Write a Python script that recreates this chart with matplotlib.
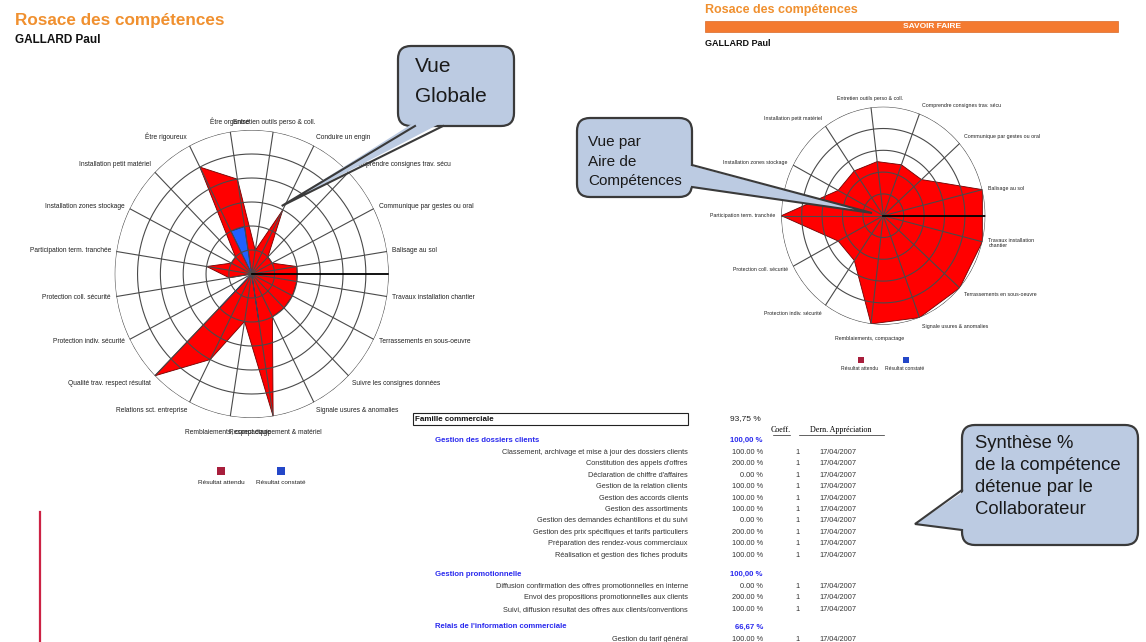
import numpy as np
import matplotlib.pyplot as plt
from matplotlib.patches import FancyBboxPatch, Polygon, Rectangle

plt.rcParams['font.family'] = ['Liberation Sans', 'DejaVu Sans']

W, H = 1146, 642

# Vue globale : toutes les competences (valeurs en %)
global_labels = [
    "Balisage au sol", "Communique par gestes ou oral", "Comprendre consignes trav. sécu",
    "Conduire un engin", "Entretien outils perso & coll.", "Être organisé", "Être rigoureux",
    "Installation petit matériel", "Installation zones stockage", "Participation term. tranchée",
    "Protection coll. sécurité", "Protection indiv. sécurité", "Qualité trav. respect résultat",
    "Relations sct. entreprise", "Remblaiements, compactage", "Respect équipement & matériel",
    "Signale usures & anomalies", "Suivre les consignes données", "Terrassements en sous-oeuvre",
    "Travaux installation chantier",
]
global_expected = [100, 50, 50, 150, 50, 200, 250, 50, 50, 100, 50, 0, 300, 200, 100, 300, 100, 100, 100, 100]
global_observed = [0, 0, 0, 0, 0, 100, 100, 0, 0, 0, 0, 0, 100, 0, 0, 100, 0, 0, 0, 0]
global_max = 300
global_step = 50

# Vue par aire de competences : SAVOIR FAIRE
sf_labels = [
    "Balisage au sol", "Communique par gestes ou oral", "Comprendre consignes trav. sécu",
    "Entretien outils perso & coll.", "Installation petit matériel", "Installation zones stockage",
    "Participation term. tranchée", "Protection coll. sécurité", "Protection indiv. sécurité",
    "Remblaiements, compactage", "Signale usures & anomalies", "Terrassements en sous-oeuvre",
    "Travaux installation\nchantier",
]
sf_expected = [200, 100, 100, 100, 100, 100, 200, 100, 100, 200, 200, 200, 200]
sf_observed = [0, 0, 0, 0, 0, 0, 0, 0, 0, 0, 0, 0, 0]
sf_max = 200
sf_step = 40

# Tableau de synthese
family_name = "Famille commerciale"
family_score = "93,75 %"
group_names = ["Gestion des dossiers clients", "Gestion promotionnelle",
               "Relais de l'information commerciale"]
group_scores = ["100,00 %", "100,00 %", "66,67 %"]
group_items = [
    ["Classement, archivage et mise à jour des dossiers clients",
     "Constitution des appels d'offres",
     "Déclaration de chiffre d'affaires",
     "Gestion de la relation clients",
     "Gestion des accords clients",
     "Gestion des assortiments",
     "Gestion des demandes échantillons et du suivi",
     "Gestion des prix spécifiques et tarifs particuliers",
     "Préparation des rendez-vous commerciaux",
     "Réalisation et gestion des fiches produits"],
    ["Diffusion confirmation des offres promotionnelles en interne",
     "Envoi des propositions promotionnelles aux clients",
     "Suivi, diffusion résultat des offres aux clients/conventions"],
    ["Gestion du tarif général"],
]
group_values = [
    [100, 200, 0, 100, 100, 100, 0, 200, 100, 100],
    [0, 200, 100],
    [100],
]
item_coeff = 1
item_date = "17/04/2007"

RED = '#ff0000'
BLUE = '#2060ff'
ORANGE = '#f0902f'
CALLOUT_FC = '#bccbe2'
CALLOUT_EC = '#3a3a3a'
GROUP_BLUE = '#2a2aee'

fig = plt.figure(figsize=(W / 100, H / 100), dpi=100)
ax_bg = fig.add_axes([0, 0, 1, 1])
ax_bg.set_xlim(0, W)
ax_bg.set_ylim(H, 0)
ax_bg.axis('off')


def draw_radar(cx, cy, rx, ry, labels, expected, observed, vmax, step, fs, gap, offset_deg):
    ax = fig.add_axes([(cx - rx) / W, 1 - (cy + ry) / H, 2 * rx / W, 2 * ry / H],
                      projection='polar', zorder=2)
    ax.set_aspect('auto')
    n = len(labels)
    angles = np.deg2rad(offset_deg) + 2 * np.pi * np.arange(n) / n
    ax.set_ylim(0, vmax)
    ax.set_xticks([])
    ax.set_yticks([])
    ax.grid(False)
    ax.spines['polar'].set_visible(False)
    ax.patch.set_visible(False)

    closed = np.append(angles, angles[0])
    ax.fill(closed, np.append(expected, expected[0]), fc=RED, ec='#700000', lw=0.6, zorder=1)
    if max(observed) > 0:
        ax.fill(closed, np.append(observed, observed[0]), fc=BLUE, ec='#0a2a8a', lw=0.5, zorder=2)

    th = np.linspace(0, 2 * np.pi, 361)
    for r in np.arange(step, vmax + step / 2, step):
        ax.plot(th, np.full_like(th, r), color='#4a4a4a', lw=0.8, zorder=3)
    for a in angles:
        ax.plot([a, a], [0, vmax], color='#4a4a4a', lw=0.8, zorder=3)
    ax.plot([0, 0], [0, vmax], color='black', lw=1.3, zorder=4)

    for a, lab in zip(angles, labels):
        c, s = np.cos(a), np.sin(a)
        ha = 'center' if abs(c) < 0.2 else ('left' if c > 0 else 'right')
        va = 'bottom' if s > 0.5 else ('top' if s < -0.5 else 'center')
        r_lab = vmax * gap
        if abs(c) < 0.2 and s < 0:
            r_lab = vmax * (gap + 0.05)
        ax.text(a, r_lab, lab, ha=ha, va=va, fontsize=fs, color='#222222',
                clip_on=False, zorder=5, linespacing=1.0)
    return ax


draw_radar(251.7, 274, 137, 144, global_labels, global_expected, global_observed,
           global_max, global_step, 4.8, 1.04, 9)
draw_radar(883.3, 215.7, 102, 109, sf_labels, sf_expected, sf_observed,
           sf_max, sf_step, 3.8, 1.06, 180 - 6 * 360 / 13)

# Titres
ax_bg.text(15, 20, "Rosace des compétences", fontsize=12.3, fontweight='bold', color=ORANGE, va='center')
ax_bg.text(15, 40, "GALLARD Paul", fontsize=8.5, fontweight='bold', color='#111111', va='center')
ax_bg.text(705, 10, "Rosace des compétences", fontsize=9, fontweight='bold', color=ORANGE, va='center')
ax_bg.add_patch(Rectangle((705, 20.5), 413, 11, fc='#f47a30', ec='#d86a28', lw=0.5))
ax_bg.text(932, 26, "SAVOIR FAIRE", fontsize=6, fontweight='bold', color='white', ha='center', va='center')
ax_bg.text(705, 43, "GALLARD Paul", fontsize=6.5, fontweight='bold', color='#111111', va='center')

# Legendes
ax_bg.add_patch(Rectangle((217, 467), 8, 8, fc='#a81e3c', ec='none'))
ax_bg.add_patch(Rectangle((277, 467), 8, 8, fc='#2447c8', ec='none'))
ax_bg.text(221, 482, "Résultat attendu", fontsize=4.6, ha='center', va='center', color='#222222')
ax_bg.text(281, 482, "Résultat constaté", fontsize=4.6, ha='center', va='center', color='#222222')
ax_bg.add_patch(Rectangle((858, 357), 5.5, 5.5, fc='#a81e3c', ec='none'))
ax_bg.add_patch(Rectangle((903, 357), 5.5, 5.5, fc='#2447c8', ec='none'))
ax_bg.text(860, 369, "Résultat attendu", fontsize=3.6, ha='center', va='center', color='#222222')
ax_bg.text(905, 369, "Résultat constaté", fontsize=3.6, ha='center', va='center', color='#222222')

# Tableau
ax_bg.add_patch(Rectangle((413, 413), 275, 12, fill=False, ec='#222222', lw=0.8))
ax_bg.text(415, 419.5, family_name, fontsize=5.8, fontweight='bold', va='center', color='#111111')
ax_bg.text(761, 419, family_score, fontsize=6, ha='right', va='center', color='#222222')
ax_bg.text(781, 430, "Coeff.", fontsize=5.8, ha='center', va='center', family='Liberation Serif')
ax_bg.text(841, 430, "Dern. Appréciation", fontsize=5.8, ha='center', va='center', family='Liberation Serif')
ax_bg.plot([773, 790], [434.5, 434.5], color='#222222', lw=0.5)
ax_bg.plot([799, 884], [434.5, 434.5], color='#222222', lw=0.5)

group_y = [440, 574, 627]
row_step = 11.4
for gy, gname, gscore, items, vals in zip(group_y, group_names, group_scores, group_items, group_values):
    ax_bg.text(435, gy, gname, fontsize=5.6, fontweight='bold', color=GROUP_BLUE, va='center')
    ax_bg.text(763, gy, gscore, fontsize=5.6, fontweight='bold', color=GROUP_BLUE, ha='right', va='center')
    for i, (item, v) in enumerate(zip(items, vals)):
        y = gy + 12.5 + i * row_step
        ax_bg.text(688, y, item, fontsize=5.3, ha='right', va='center', color='#333333')
        ax_bg.text(763, y, f"{v:.2f} %", fontsize=5.3, ha='right', va='center', color='#333333')
        ax_bg.text(797, y, str(item_coeff), fontsize=5.3, ha='center', va='center', color='#333333')
        ax_bg.text(838, y, item_date, fontsize=5.3, ha='center', va='center', color='#333333')

ax_bg.plot([40, 40], [512, 642], color='#cc2244', lw=1.6)

# Bulles
ax_top = fig.add_axes([0, 0, 1, 1], zorder=6)
ax_top.set_xlim(0, W)
ax_top.set_ylim(H, 0)
ax_top.axis('off')


def callout(x0, y0, x1, y1, base1, tip, base2, inward):
    ax_top.add_patch(FancyBboxPatch((x0, y0), x1 - x0, y1 - y0,
                                    boxstyle='round,pad=0,rounding_size=13',
                                    fc=CALLOUT_FC, ec=CALLOUT_EC, lw=1.6, zorder=2))
    b1 = (base1[0] + inward[0], base1[1] + inward[1])
    b2 = (base2[0] + inward[0], base2[1] + inward[1])
    ax_top.add_patch(Polygon([b1, tip, b2], closed=True, fc=CALLOUT_FC, ec='none', zorder=3))
    ax_top.plot([base1[0], tip[0], base2[0]], [base1[1], tip[1], base2[1]],
                color=CALLOUT_EC, lw=1.5, zorder=4, solid_joinstyle='miter')


callout(398, 46, 514, 126, (415, 126), (281.7, 206), (443, 126), (0, -4))
ax_top.text(415, 66, "Vue", fontsize=15, va='center', ha='left', color='#1a1a1a', zorder=5)
ax_top.text(415, 96, "Globale", fontsize=15, va='center', ha='left', color='#1a1a1a', zorder=5)

callout(577, 118, 692, 197, (692, 165), (872, 213), (692, 187), (-4, 0))
for txt, ty in zip(["Vue par", "Aire de", "Compétences"], [142, 162, 181]):
    ax_top.text(588, ty, txt, fontsize=11, va='center', ha='left', color='#1a1a1a', zorder=5)

callout(962, 425, 1138, 545, (962, 490), (915, 524), (962, 530), (4, 0))
for txt, ty in zip(["Synthèse %", "de la compétence", "détenue par le", "Collaborateur"],
                   [443, 465, 487, 509]):
    ax_top.text(975, ty, txt, fontsize=13.3, va='center', ha='left', color='#1a1a1a', zorder=5)

fig.savefig('out.png', dpi=100)
